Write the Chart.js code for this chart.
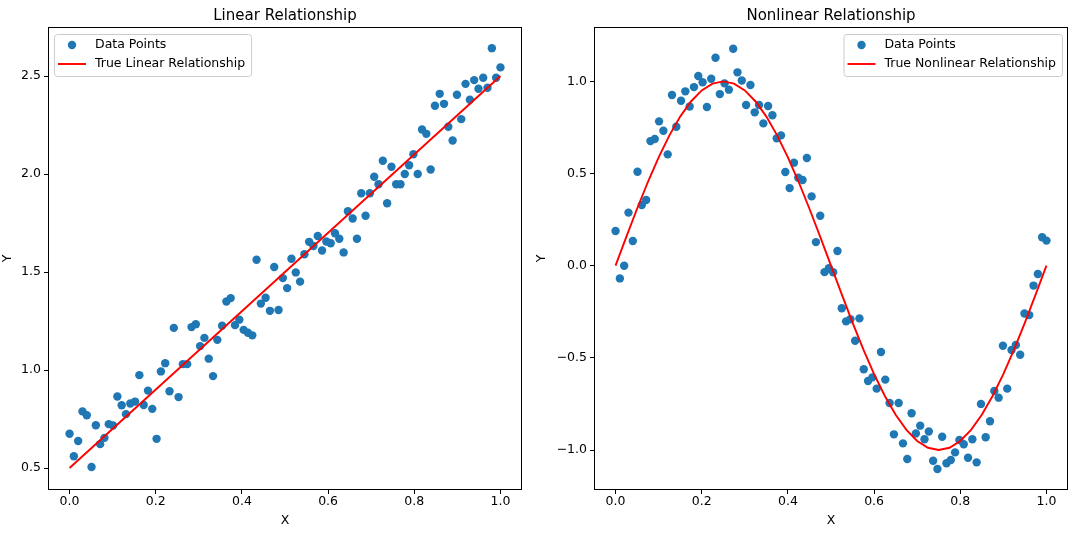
<!DOCTYPE html>
<html>
<head>
<meta charset="utf-8">
<script src="https://cdn.jsdelivr.net/npm/chart.js@4.4.1/dist/chart.umd.min.js"></script>
<style>
    html, body { margin: 0; padding: 0; background: #fff; }
    body { width: 1091px; height: 538px; position: relative; overflow: hidden; }
    .panel { position: absolute; top: 0; height: 538px; }
    #leftPanel { left: 0; width: 534px; }
    #rightPanel { left: 534px; width: 557px; }
</style>
</head>
<body>
<div class="panel" id="leftPanel"><canvas id="linearChart"></canvas></div>
<div class="panel" id="rightPanel"><canvas id="nonlinearChart"></canvas></div>
<script>
// x positions of the 100 samples (evenly spaced 0..1)
const xValues = [
    0, .010, .020, .030, .040, .051, .061, .071, .081, .091,
    .101, .111, .121, .131, .141, .152, .162, .172, .182, .192,
    .202, .212, .222, .232, .242, .253, .263, .273, .283, .293,
    .303, .313, .323, .333, .343, .354, .364, .374, .384, .394,
    .404, .414, .424, .434, .444, .455, .465, .475, .485, .495,
    .505, .515, .525, .535, .545, .556, .566, .576, .586, .596,
    .606, .616, .626, .636, .646, .657, .667, .677, .687, .697,
    .707, .717, .727, .737, .747, .758, .768, .778, .788, .798,
    .808, .818, .828, .838, .848, .859, .869, .879, .889, .899,
    .909, .919, .929, .939, .949, .960, .970, .980, .990, 1.000
];

const linearY = [
    0.675, 0.56, 0.638, 0.789, 0.769, 0.505, 0.718, 0.622, 0.654, 0.724,
    0.717, 0.865, 0.82, 0.775, 0.829, 0.839, 0.974, 0.822, 0.895, 0.802,
    0.649, 0.993, 1.035, 0.892, 1.215, 0.862, 1.03, 1.03, 1.219, 1.234,
    1.122, 1.164, 1.058, 0.969, 1.154, 1.226, 1.35, 1.367, 1.229, 1.257,
    1.205, 1.19, 1.177, 1.563, 1.339, 1.369, 1.302, 1.526, 1.306, 1.469,
    1.418, 1.568, 1.498, 1.451, 1.591, 1.654, 1.633, 1.684, 1.61, 1.656,
    1.647, 1.698, 1.67, 1.6, 1.81, 1.773, 1.67, 1.902, 1.787, 1.902,
    1.986, 1.948, 2.068, 1.851, 2.037, 1.948, 1.948, 2.0, 2.045, 2.101,
    2.0, 2.227, 2.205, 2.023, 2.348, 2.409, 2.358, 2.241, 2.171, 2.404,
    2.28, 2.46, 2.379, 2.479, 2.435, 2.491, 2.44, 2.642, 2.491, 2.544
];

const nonlinearY = [
    0.188, -0.069, 0.0, 0.288, 0.134, 0.51, 0.329, 0.356, 0.676, 0.687,
    0.783, 0.732, 0.604, 0.926, 0.754, 0.895, 0.946, 0.864, 0.969, 1.029,
    0.995, 0.861, 1.014, 1.128, 0.931, 0.989, 0.955, 1.177, 1.049, 1.005,
    0.872, 0.98, 0.832, 0.872, 0.772, 0.866, 0.816, 0.691, 0.707, 0.508,
    0.421, 0.559, 0.477, 0.465, 0.584, 0.376, 0.128, 0.271, -0.035, -0.014,
    -0.036, 0.08, -0.231, -0.302, -0.291, -0.407, -0.286, -0.562, -0.626, -0.606,
    -0.667, -0.468, -0.618, -0.745, -0.915, -0.745, -0.964, -1.049, -0.801, -0.91,
    -0.868, -0.942, -0.9, -1.058, -1.103, -0.928, -1.072, -1.054, -1.013, -0.946,
    -0.969, -1.042, -0.942, -1.067, -0.75, -0.931, -0.844, -0.68, -0.716, -0.434,
    -0.667, -0.457, -0.43, -0.483, -0.259, -0.268, -0.108, -0.045, 0.154, 0.136
];

// true relationships
const linearLineX = [0, 1];
const linearLineY = [0.5, 2.5];

const curveX = [
    0, .025, .05, .075, .1, .125, .15, .175, .2, .225,
    .25, .275, .3, .325, .35, .375, .4, .425, .45, .475,
    .5, .525, .55, .575, .6, .625, .65, .675, .7, .725,
    .75, .775, .8, .825, .85, .875, .9, .925, .95, .975, 1
];
const curveY = [
    0, .156, .309, .454, .588, .707, .809, .891, .951, .988,
    1, .988, .951, .891, .809, .707, .588, .454, .309, .156,
    0, -.156, -.309, -.454, -.588, -.707, -.809, -.891, -.951, -.988,
    -1, -.988, -.951, -.891, -.809, -.707, -.588, -.454, -.309, -.156, 0
];

const xTicks = [0, 0.2, 0.4, 0.6, 0.8, 1.0];
const linearYTicks = [0.5, 1.0, 1.5, 2.0, 2.5];
const nonlinearYTicks = [-1.0, -0.5, 0.0, 0.5, 1.0];

const FONT = "'DejaVu Sans', 'Liberation Sans', sans-serif";
const POINT_COLOR = '#1f77b4';

function toPoints(xs, ys) {
    return xs.map((x, i) => ({ x: x, y: ys[i] }));
}

function fmt(v) {
    const s = Math.abs(v).toFixed(1);
    return v < 0 ? '\u2212' + s : s;
}

// axes frame (all four spines)
const framePlugin = {
    id: 'frame',
    afterDatasetsDraw(chart) {
        const { ctx, chartArea: a } = chart;
        ctx.save();
        ctx.strokeStyle = '#000';
        ctx.lineWidth = 1;
        ctx.strokeRect(Math.round(a.left) + 0.5, Math.round(a.top) + 0.5,
            Math.round(a.right - a.left) - 1, Math.round(a.bottom - a.top) - 1);
        ctx.restore();
    }
};

// matplotlib style legend inside the axes
const boxLegendPlugin = {
    id: 'boxLegend',
    afterDraw(chart, args, opts) {
        const { ctx, chartArea: a } = chart;
        ctx.save();
        ctx.font = '12.5px ' + FONT;
        const textW = Math.max(...opts.labels.map(t => ctx.measureText(t).width));
        const w = 41 + textW + 6;
        const h = 42;
        const x = opts.corner === 'right' ? a.right - 6 - w : a.left + 6;
        const y = a.top + 7;

        ctx.beginPath();
        ctx.roundRect(x + 0.5, y + 0.5, w, h, 3);
        ctx.fillStyle = 'rgba(255,255,255,0.8)';
        ctx.fill();
        ctx.strokeStyle = '#cccccc';
        ctx.lineWidth = 1;
        ctx.stroke();

        // scatter handle
        ctx.beginPath();
        ctx.arc(x + 18, y + 11, 4.2, 0, Math.PI * 2);
        ctx.fillStyle = POINT_COLOR;
        ctx.fill();

        // line handle
        ctx.beginPath();
        ctx.moveTo(x + 4, y + 30);
        ctx.lineTo(x + 32, y + 30);
        ctx.strokeStyle = 'red';
        ctx.lineWidth = 1.9;
        ctx.stroke();

        ctx.fillStyle = '#000';
        ctx.textBaseline = 'middle';
        ctx.fillText(opts.labels[0], x + 41, y + 11);
        ctx.fillText(opts.labels[1], x + 41, y + 30);
        ctx.restore();
    }
};

function makeChart(canvasId, cfg) {
    const ctx = document.getElementById(canvasId).getContext('2d');
    return new Chart(ctx, {
        type: 'scatter',
        data: {
            datasets: [
                {
                    label: 'Data Points',
                    data: toPoints(xValues, cfg.points),
                    backgroundColor: POINT_COLOR,
                    borderWidth: 0,
                    pointRadius: 4.2,
                    pointHoverRadius: 4.2,
                    order: 1
                },
                {
                    label: cfg.lineLabel,
                    data: toPoints(cfg.lineX, cfg.lineY),
                    showLine: true,
                    borderColor: 'red',
                    borderWidth: 1.9,
                    pointRadius: 0,
                    tension: 0,
                    order: 0
                }
            ]
        },
        options: {
            responsive: true,
            maintainAspectRatio: false,
            animation: false,
            layout: { autoPadding: false, padding: { left: 0, right: cfg.padRight, top: 0, bottom: 0 } },
            plugins: {
                legend: { display: false },
                tooltip: { enabled: false },
                title: {
                    display: true,
                    text: cfg.title,
                    color: '#000',
                    fullSize: false,
                    font: { family: FONT, size: 15, weight: 'normal' },
                    padding: { top: 7, bottom: 2 }
                },
                boxLegend: { labels: ['Data Points', cfg.lineLabel], corner: cfg.legendCorner }
            },
            scales: {
                x: {
                    type: 'linear',
                    min: -0.05,
                    max: 1.05,
                    afterBuildTicks: s => { s.ticks = xTicks.map(v => ({ value: v })); },
                    afterFit: s => { s.height = 48; },
                    grid: { drawOnChartArea: false, drawTicks: true, tickLength: 4, tickColor: '#000', lineWidth: 1 },
                    border: { display: false },
                    ticks: { color: '#000', padding: 0, maxRotation: 0, font: { family: FONT, size: 12.5 }, callback: v => fmt(v) },
                    title: { display: true, text: 'X', color: '#000', font: { family: FONT, size: 12.5 }, padding: { top: 0, bottom: 9.5 } }
                },
                y: {
                    type: 'linear',
                    min: cfg.yMin,
                    max: cfg.yMax,
                    afterBuildTicks: s => { s.ticks = cfg.yTicks.map(v => ({ value: v })); },
                    afterFit: s => { s.width = cfg.yAxisWidth; },
                    grid: { drawOnChartArea: false, drawTicks: true, tickLength: 4, tickColor: '#000', lineWidth: 1 },
                    border: { display: false },
                    ticks: { color: '#000', padding: 3, font: { family: FONT, size: 12.5 }, callback: v => fmt(v) },
                    title: { display: true, text: 'Y', color: '#000', font: { family: FONT, size: 12.5 }, padding: { top: 0, bottom: 0 } }
                }
            }
        },
        plugins: [framePlugin, boxLegendPlugin]
    });
}

makeChart('linearChart', {
    title: 'Linear Relationship',
    points: linearY,
    lineX: linearLineX,
    lineY: linearLineY,
    lineLabel: 'True Linear Relationship',
    yMin: 0.388,
    yMax: 2.75,
    yTicks: linearYTicks,
    yAxisWidth: 48,
    padRight: 12,
    legendCorner: 'left'
});

makeChart('nonlinearChart', {
    title: 'Nonlinear Relationship',
    points: nonlinearY,
    lineX: curveX,
    lineY: curveY,
    lineLabel: 'True Nonlinear Relationship',
    yMin: -1.217,
    yMax: 1.295,
    yTicks: nonlinearYTicks,
    yAxisWidth: 60,
    padRight: 23,
    legendCorner: 'right'
});
</script>
</body>
</html>
